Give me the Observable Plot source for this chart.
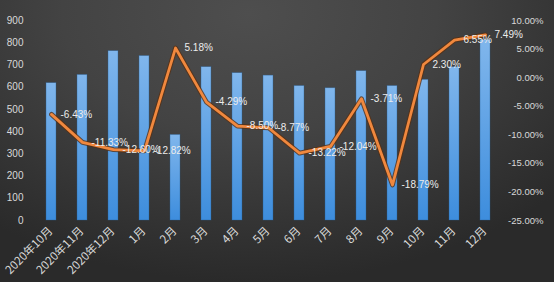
<!DOCTYPE html>
<html>
<head>
<meta charset="utf-8">
<script src="https://cdn.jsdelivr.net/npm/d3@7"></script>
<script src="https://cdn.jsdelivr.net/npm/@observablehq/plot@0.6"></script>
<style>
  html, body { margin: 0; padding: 0; }
  body { width: 554px; height: 282px; overflow: hidden; }
  #chart {
    width: 554px; height: 282px;
    background: radial-gradient(ellipse 75% 95% at 45% 5%, #4e4e4e 0%, #434343 45%, #333333 80%, #2a2a2a 100%);
  }
  svg { display: block; }
</style>
</head>
<body>
<div id="chart"></div>
<script>
const categories = ["2020年10月","2020年11月","2020年12月","1月","2月","3月","4月","5月","6月","7月","8月","9月","10月","11月","12月"];
const sales = [618, 655, 762, 740, 385, 690, 663, 652, 605, 595, 672, 605, 633, 690, 812];
const growth = [-6.43, -11.33, -12.60, -12.82, 5.18, -4.29, -8.50, -8.77, -13.22, -12.04, -3.71, -18.79, 2.30, 6.55, 7.49];
const growthLabels = ["-6.43%","-11.33%","-12.60%","-12.82%","5.18%","-4.29%","-8.50%","-8.77%","-13.22%","-12.04%","-3.71%","-18.79%","2.30%","6.55%","7.49%"];
const leftTicks = [0, 100, 200, 300, 400, 500, 600, 700, 800, 900];
const rightTicks = [10, 5, 0, -5, -10, -15, -20, -25];
const rightTickLabels = ["10.00%", "5.00%", "0.00%", "-5.00%", "-10.00%", "-15.00%", "-20.00%", "-25.00%"];

// map right-axis percent domain [-25, 10] onto left-axis domain [0, 900]
const toLeft = v => (v + 25) / 35 * 900;

const rows = categories.map((c, i) => ({cat: c, sales: sales[i], g: toLeft(growth[i]), label: growthLabels[i]}));
const rTicks = rightTicks.map((t, i) => ({y: toLeft(t), label: rightTickLabels[i]}));

const chart = Plot.plot({
  width: 554,
  height: 282,
  marginLeft: 35,
  marginRight: 52.5,
  marginTop: 20,
  marginBottom: 62,
  style: {background: "transparent", fontFamily: "'Liberation Sans', Arial, sans-serif"},
  x: {domain: categories, paddingInner: 0.69, paddingOuter: 0.345, axis: null},
  y: {domain: [0, 900], axis: null},
  marks: [
    () => {
      const svg = d3.create("svg:defs");
      const g = svg.append("linearGradient").attr("id", "barGrad").attr("x1", 0).attr("y1", 0).attr("x2", 0).attr("y2", 1);
      g.append("stop").attr("offset", "0%").attr("stop-color", "#80b6ec");
      g.append("stop").attr("offset", "100%").attr("stop-color", "#3d8ddd");
      return svg.node();
    },
    Plot.barY(rows, {x: "cat", y: "sales", fill: "url(#barGrad)", stroke: "#2c5f95", strokeWidth: 0.6, strokeOpacity: 0.6}),
    // left axis labels
    Plot.text(leftTicks, {y: d => d, text: d => String(d), frameAnchor: "left", textAnchor: "end", dx: -12, fill: "#d9d9d9", fontSize: 10}),
    // right axis labels
    Plot.text(rTicks, {y: "y", text: "label", frameAnchor: "right", textAnchor: "end", dx: 41.5, fill: "#d9d9d9", fontSize: 9.5}),
    // x axis labels
    Plot.text(categories, {x: d => d, text: d => d, frameAnchor: "bottom", rotate: -45, textAnchor: "end", dx: 2, dy: 11, fill: "#d9d9d9", fontSize: 11.5, fontFamily: "'Noto Sans CJK SC', sans-serif"}),
    // line with dark outline
    Plot.line(rows, {x: "cat", y: "g", stroke: "#5a2f12", strokeWidth: 4.8, strokeOpacity: 0.8}),
    Plot.line(rows, {x: "cat", y: "g", stroke: "#f0883e", strokeWidth: 2.8}),
    // data labels
    Plot.text(rows, {x: "cat", y: "g", text: "label", textAnchor: "start", dx: 9, fill: "#ececec", fontSize: 10})
  ]
});
document.getElementById("chart").appendChild(chart);
</script>
</body>
</html>
